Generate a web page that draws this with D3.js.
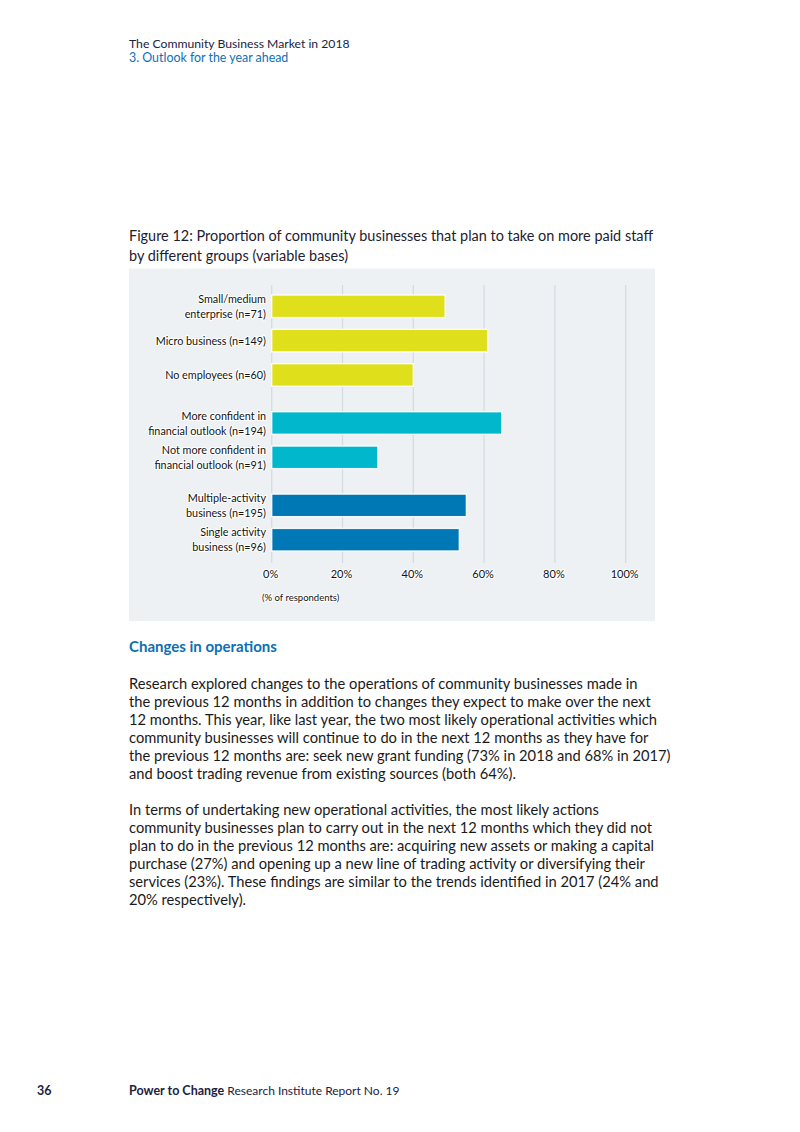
<!DOCTYPE html>
<html>
<head>
<meta charset="utf-8">
<script src="https://cdn.jsdelivr.net/npm/d3@7"></script>
<style>
  html, body { margin: 0; padding: 0; background: #ffffff; }
  svg { display: block; }
  text { font-family: Lato, "Noto Sans", sans-serif; }
</style>
</head>
<body>
<svg id="page" width="800" height="1132"></svg>
<script>
// ---- Data ----
const categories = [
  ["Small/medium", "enterprise (n=71)"],
  ["Micro business (n=149)"],
  ["No employees (n=60)"],
  ["More confident in", "financial outlook (n=194)"],
  ["Not more confident in", "financial outlook (n=91)"],
  ["Multiple-activity", "business (n=195)"],
  ["Single activity", "business (n=96)"]
];
const groups = [0, 0, 0, 1, 1, 2, 2];
const values = [49, 61, 40, 65, 30, 55, 53];
const groupColors = ["#dfe01b", "#00b7cc", "#0078b6"];
const tickValues = [0, 20, 40, 60, 80, 100];
const tickLabels = ["0%", "20%", "40%", "60%", "80%", "100%"];
const axisTitle = "(% of respondents)";

const headerLines = ["The Community Business Market in 2018", "3. Outlook for the year ahead"];
const figureTitle = ["Figure 12: Proportion of community businesses that plan to take on more paid staff", "by different groups (variable bases)"];
const sectionHeading = "Changes in operations";
const para1 = [
  "Research explored changes to the operations of community businesses made in",
  "the previous 12 months in addition to changes they expect to make over the next",
  "12 months. This year, like last year, the two most likely operational activities which",
  "community businesses will continue to do in the next 12 months as they have for",
  "the previous 12 months are: seek new grant funding (73% in 2018 and 68% in 2017)",
  "and boost trading revenue from existing sources (both 64%)."
];
const para2 = [
  "In terms of undertaking new operational activities, the most likely actions",
  "community businesses plan to carry out in the next 12 months which they did not",
  "plan to do in the previous 12 months are: acquiring new assets or making a capital",
  "purchase (27%) and opening up a new line of trading activity or diversifying their",
  "services (23%). These findings are similar to the trends identified in 2017 (24% and",
  "20% respectively)."
];
const footerPage = "36";
const footerBold = "Power to Change";
const footerRest = " Research Institute Report No. 19";

// ---- Drawing ----
const svg = d3.select("#page");

// Header
svg.append("text").attr("x", 129).attr("y", 47.5)
  .attr("font-size", 12.2).attr("fill", "#1b2242").text(headerLines[0]);
svg.append("text").attr("x", 129).attr("y", 61.5)
  .attr("font-size", 12.4).attr("fill", "#0b72b5").text(headerLines[1]);

// Figure title
figureTitle.forEach((t, i) => {
  svg.append("text").attr("x", 129).attr("y", 241 + i * 19.5)
    .attr("font-size", 14.45).attr("fill", "#1e2030").text(t);
});

// Chart panel
const panel = { x: 129, y: 268.5, w: 526, h: 352.5 };
svg.append("rect").attr("x", panel.x).attr("y", panel.y)
  .attr("width", panel.w).attr("height", panel.h).attr("fill", "#edf1f4");

const x = d3.scaleLinear().domain([0, 100]).range([271.7, 625.7]);
const slot = categories.map((c, i) => i + groups[i] * 0.4);
const y = d3.scaleLinear().domain([0, 6.8]).range([306.3, 539.7]);
const barH = 22.6;

const g = svg.append("g");

// gridlines
g.selectAll("line.grid").data(tickValues).join("line")
  .attr("class", "grid")
  .attr("x1", d => x(d)).attr("x2", d => x(d))
  .attr("y1", 285).attr("y2", 563)
  .attr("stroke", "#d3dbe3").attr("stroke-width", 1.3);

// bars
g.selectAll("rect.bar").data(values).join("rect")
  .attr("class", "bar")
  .attr("x", x(0))
  .attr("y", (d, i) => y(slot[i]) - barH / 2)
  .attr("width", d => x(d) - x(0))
  .attr("height", barH)
  .attr("fill", (d, i) => groupColors[groups[i]])
  .attr("stroke", "#ffffff").attr("stroke-width", 1.4)
  .attr("stroke-opacity", 0.9);

// category labels
const lab = g.selectAll("text.cat").data(categories).join("text")
  .attr("class", "cat")
  .attr("text-anchor", "end")
  .attr("font-size", 10.8)
  .attr("fill", "#111111")
  .attr("stroke", "#ffffff").attr("stroke-width", 2.2)
  .attr("stroke-linejoin", "round")
  .attr("paint-order", "stroke");
lab.each(function (d, i) {
  const cy = y(slot[i]);
  const t = d3.select(this);
  const n = d.length;
  d.forEach((line, k) => {
    t.append("tspan").attr("x", 266)
      .attr("y", cy + 4 + (k - (n - 1) / 2) * 15)
      .text(line);
  });
});

// x axis via d3.axisBottom
const axis = d3.axisBottom(x).tickValues(tickValues)
  .tickFormat((d, i) => tickLabels[i]).tickSize(0).tickPadding(0);
const ax = svg.append("g").attr("transform", "translate(-1.5,574)").call(axis);
ax.select(".domain").remove();
ax.selectAll("text")
  .attr("font-family", "Lato, 'Noto Sans', sans-serif")
  .attr("font-size", 11).attr("fill", "#111111")
  .attr("dy", "0.32em")
  .attr("stroke", "#ffffff").attr("stroke-width", 2.2)
  .attr("stroke-linejoin", "round").attr("paint-order", "stroke");

svg.append("text").attr("x", 262).attr("y", 600.5)
  .attr("font-size", 9.5).attr("fill", "#111111")
  .attr("stroke", "#ffffff").attr("stroke-width", 2).attr("paint-order", "stroke")
  .text(axisTitle);

// Section heading
svg.append("text").attr("x", 129).attr("y", 652)
  .attr("font-size", 15).attr("font-weight", "bold").attr("fill", "#0b6fb3")
  .text(sectionHeading);

// Paragraphs
para1.forEach((t, i) => {
  svg.append("text").attr("x", 129).attr("y", 688.5 + i * 18.1)
    .attr("font-size", 14.7).attr("fill", "#1a1a1a").text(t);
});
para2.forEach((t, i) => {
  svg.append("text").attr("x", 129).attr("y", 815 + i * 18.05)
    .attr("font-size", 14.7).attr("fill", "#1a1a1a").text(t);
});

// Footer
svg.append("text").attr("x", 37).attr("y", 1094.5)
  .attr("font-size", 12.5).attr("font-weight", "bold").attr("fill", "#1b2242").text(footerPage);
const ft = svg.append("text").attr("x", 129).attr("y", 1094.5)
  .attr("font-size", 12.5).attr("fill", "#1b2242");
ft.append("tspan").attr("font-weight", "bold").text(footerBold);
ft.append("tspan").attr("font-size", 12).text(footerRest);
</script>
</body>
</html>
